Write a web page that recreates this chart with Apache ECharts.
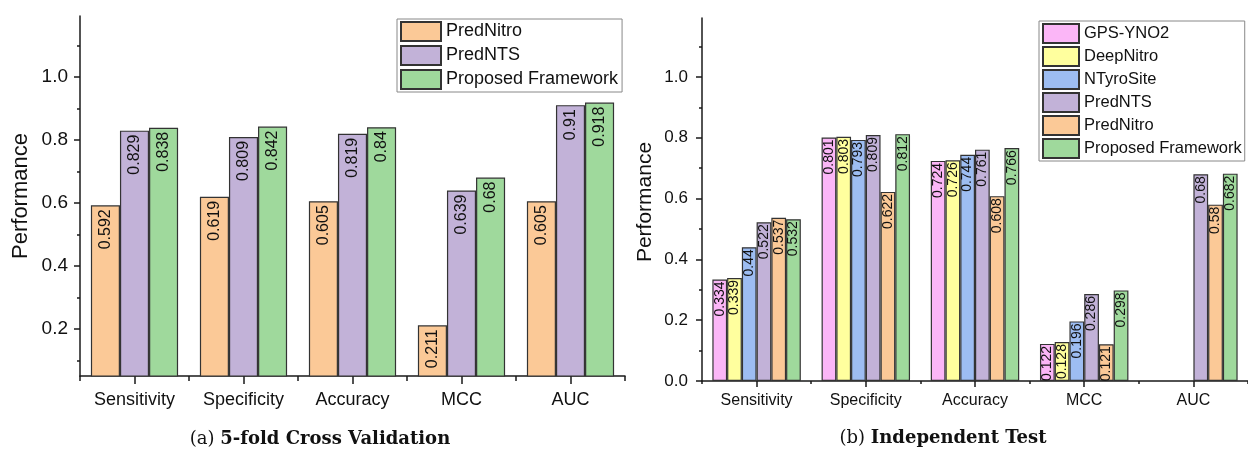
<!DOCTYPE html>
<html>
<head>
<meta charset="utf-8">
<script src="https://cdn.jsdelivr.net/npm/echarts@6/dist/echarts.min.js"></script>
<style>
html,body{margin:0;padding:0;background:#fff;}
#main{width:1248px;height:450px;}
</style>
</head>
<body>
<div id="main"></div>
<script>
// ---- data ----
const categories = ['Sensitivity', 'Specificity', 'Accuracy', 'MCC', 'AUC'];

// (a) 5-fold Cross Validation
const cvNames = ['PredNitro', 'PredNTS', 'Proposed Framework'];
const cvPredNitro = [0.592, 0.619, 0.605, 0.211, 0.605];
const cvPredNTS = [0.829, 0.809, 0.819, 0.639, 0.91];
const cvProposed = [0.838, 0.842, 0.84, 0.68, 0.918];

// (b) Independent Test
const itNames = ['GPS-YNO2', 'DeepNitro', 'NTyroSite', 'PredNTS', 'PredNitro', 'Proposed Framework'];
const itGPS = [0.334, 0.801, 0.724, 0.122, null];
const itDeepNitro = [0.339, 0.803, 0.726, 0.128, null];
const itNTyroSite = [0.44, 0.793, 0.744, 0.196, null];
const itPredNTS = [0.522, 0.809, 0.761, 0.286, 0.68];
const itPredNitro = [0.537, 0.622, 0.608, 0.121, 0.58];
const itProposed = [0.532, 0.812, 0.766, 0.298, 0.682];

// tick values
const cvMajorTicks = [0.2, 0.4, 0.6, 0.8, 1.0];
const cvMinorTicks = [0.1, 0.3, 0.5, 0.7, 0.9, 1.1];
const itMajorTicks = [0.0, 0.2, 0.4, 0.6, 0.8, 1.0];
const itMinorTicks = [0.1, 0.3, 0.5, 0.7, 0.9, 1.1];

const captionA = ['(a)', '5-fold Cross Validation'];
const captionB = ['(b)', 'Independent Test'];
const yTitle = 'Performance';

// ---- styles ----
const FONT = '"Liberation Sans", Arial, sans-serif';
const SERIF = '"DejaVu Serif", serif';
const CAP_REG = '18px ' + SERIF;
const CAP_BOLD = 'bold 18px ' + SERIF;
const AXIS_COLOR = '#1a1a1a';
const colors = {
  'GPS-YNO2': '#FBB6F7',
  'DeepNitro': '#FFFF9E',
  'NTyroSite': '#9DBDF2',
  'PredNTS': '#C2B2D8',
  'PredNitro': '#FBC997',
  'Proposed Framework': '#9FD99C'
};

function catAxes(gridIndex, fontSize, margin, majorLen, minorLen) {
  return [
    {
      type: 'category', gridIndex: gridIndex, data: categories, position: 'bottom',
      axisLine: { show: true, lineStyle: { color: AXIS_COLOR, width: 1.5 } },
      axisTick: { show: true, alignWithLabel: true, length: majorLen, lineStyle: { color: AXIS_COLOR, width: 1.5 } },
      axisLabel: { show: true, fontSize: fontSize, fontFamily: FONT, color: '#111', margin: margin },
      splitLine: { show: false }
    },
    {
      type: 'category', gridIndex: gridIndex, data: categories, position: 'bottom',
      axisLine: { show: false },
      axisTick: { show: true, length: minorLen, lineStyle: { color: AXIS_COLOR, width: 1.5 } },
      axisLabel: { show: false },
      splitLine: { show: false }
    }
  ];
}

function valAxes(gridIndex, min, max, majors, minors, fontSize, margin) {
  return [
    {
      type: 'value', gridIndex: gridIndex, min: min, max: max, position: 'left',
      axisLine: { show: true, lineStyle: { color: AXIS_COLOR, width: 1.5 } },
      axisTick: { show: true, customValues: majors, length: 6, lineStyle: { color: AXIS_COLOR, width: 1.5 } },
      axisLabel: { show: true, customValues: majors, fontSize: fontSize, fontFamily: FONT, color: '#111', margin: margin,
        formatter: function (v) { return Number(v).toFixed(1); } },
      splitLine: { show: false }
    },
    {
      type: 'value', gridIndex: gridIndex, min: min, max: max, position: 'left',
      axisLine: { show: false },
      axisTick: { show: true, customValues: minors, length: 3, lineStyle: { color: AXIS_COLOR, width: 1.5 } },
      axisLabel: { show: false },
      splitLine: { show: false }
    }
  ];
}

function barSeries(name, data, xIdx, yIdx, labelSize, labelDist, catGap) {
  return {
    type: 'bar', name: name, data: data, xAxisIndex: xIdx, yAxisIndex: yIdx,
    barGap: '0%', barCategoryGap: catGap, clip: true,
    itemStyle: { color: colors[name], borderColor: '#333', borderWidth: 1.2 },
    label: {
      show: true, position: 'insideTop', distance: labelDist, rotate: 90,
      align: 'right', verticalAlign: 'middle',
      fontSize: labelSize, fontFamily: FONT, color: '#111'
    },
    emphasis: { disabled: true },
    animation: false
  };
}

const measureCtx = document.createElement('canvas').getContext('2d');
function textWidth(str, font) {
  measureCtx.font = font;
  return measureCtx.measureText(str).width;
}

// caption: regular "(x)" + space + bold title, centred at cx
function caption(parts, cx, cy) {
  const w1 = textWidth(parts[0] + ' ', CAP_REG);
  const w2 = textWidth(parts[1], CAP_BOLD);
  const x0 = cx - (w1 + w2) / 2;
  return [
    { type: 'text', x: x0, y: cy,
      style: { text: parts[0], font: CAP_REG, fill: '#111', align: 'left', verticalAlign: 'middle' } },
    { type: 'text', x: x0 + w1, y: cy,
      style: { text: parts[1], font: CAP_BOLD, fill: '#111', align: 'left', verticalAlign: 'middle' } }
  ];
}

const chart = echarts.init(document.getElementById('main'), null, { renderer: 'canvas' });

const series = [];
series.push(barSeries('PredNitro', cvPredNitro, 0, 0, 16, 4, '20%'));
series.push(barSeries('PredNTS', cvPredNTS, 0, 0, 16, 4, '20%'));
series.push(barSeries('Proposed Framework', cvProposed, 0, 0, 16, 4, '20%'));

const itData = [itGPS, itDeepNitro, itNTyroSite, itPredNTS, itPredNitro, itProposed];
itNames.forEach(function (n, i) {
  series.push(barSeries(n, itData[i], 2, 2, 14, 2, '19%'));
});

const option = {
  backgroundColor: '#fff',
  animation: false,
  grid: [
    { left: 80, top: 16, width: 545, height: 360 },
    { left: 702, top: 18, width: 550, height: 363 }
  ],
  xAxis: [].concat(catAxes(0, 18, 15, 8, 5), catAxes(1, 16, 12, 6, 3)),
  yAxis: [].concat(valAxes(0, 0.05, 1.193, cvMajorTicks, cvMinorTicks, 19, 12),
                   valAxes(1, 0, 1.194, itMajorTicks, itMinorTicks, 17, 14)),
  legend: [
    {
      data: cvNames, orient: 'vertical', left: 397, top: 19,
      itemWidth: 40, itemHeight: 19, itemGap: 3, icon: 'rect',
      padding: [2, 4, 2, 3], borderColor: '#888', borderWidth: 1,
      selectedMode: false,
      textStyle: { fontSize: 18, fontFamily: FONT, color: '#111' }
    },
    {
      data: itNames, orient: 'vertical', left: 1039, top: 21,
      itemWidth: 36, itemHeight: 19, itemGap: 2, icon: 'rect',
      padding: [2, 3, 2, 3], borderColor: '#888', borderWidth: 1,
      selectedMode: false,
      textStyle: { fontSize: 16.5, fontFamily: FONT, color: '#111' }
    }
  ],
  graphic: [
    {
      type: 'text', x: 21, y: 196, rotation: Math.PI / 2,
      style: { text: yTitle, font: '22px ' + FONT, fill: '#111', align: 'center', verticalAlign: 'middle' }
    },
    {
      type: 'text', x: 645, y: 202, rotation: Math.PI / 2,
      style: { text: yTitle, font: '21px ' + FONT, fill: '#111', align: 'center', verticalAlign: 'middle' }
    }
  ].concat(caption(captionA, 320, 439), caption(captionB, 943, 438)),
  series: series
};

chart.setOption(option);
</script>
</body>
</html>
